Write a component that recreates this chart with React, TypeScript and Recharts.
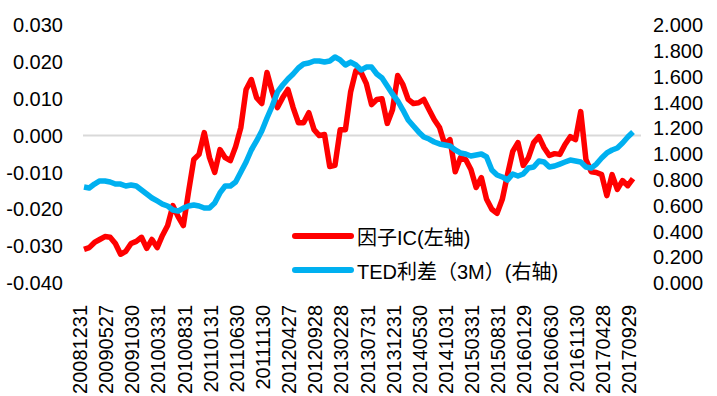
import React from "react";
import {
  LineChart,
  Line,
  XAxis,
  YAxis,
  ReferenceLine,
} from "recharts";

// x-axis labels, one every 5 months (monthly data, 106 points)
const tickLabels = [
  "20081231", "20090527", "20091030", "20100331", "20100831", "20110131",
  "20110630", "20111130", "20120427", "20120928", "20130228", "20130731",
  "20131231", "20140530", "20141031", "20150331", "20150831", "20160129",
  "20160630", "20161130", "20170428", "20170929",
];

// 因子IC (left axis)
const factorIC = [
  -0.0309, -0.0304, -0.029, -0.0282, -0.0274, -0.0276, -0.0293, -0.0322, -0.0314, -0.0293,
  -0.0287, -0.0276, -0.0306, -0.0282, -0.0304, -0.0271, -0.0244, -0.019, -0.022, -0.0244,
  -0.0152, -0.0065, -0.0051, 0.0008, -0.006, -0.01, -0.0038, -0.006, -0.0068, -0.003,
  0.0022, 0.0125, 0.0152, 0.0103, 0.0087, 0.0171, 0.0119, 0.0076, 0.0103, 0.0125,
  0.0076, 0.0035, 0.0035, 0.0062, 0.0016, 0.0, 0.0003, -0.0084, -0.0081, 0.0016,
  0.0016, 0.0119, 0.0176, 0.0171, 0.0141, 0.0084, 0.0098, 0.01, 0.0033, 0.007,
  0.0163, 0.0138, 0.0098, 0.0087, 0.0089, 0.0098, 0.007, 0.0043, 0.0022, -0.0024,
  -0.0011, -0.0098, -0.006, -0.0065, -0.0092, -0.0141, -0.0114, -0.0173, -0.02, -0.0211,
  -0.0173, -0.0106, -0.0043, -0.0019, -0.0081, -0.006, -0.0019, -0.0003, -0.0033, -0.0054,
  -0.0049, -0.0051, -0.0024, -0.0003, -0.0011, 0.0065, -0.0065, -0.0098, -0.01, -0.0106,
  -0.0163, -0.0106, -0.0146, -0.0122, -0.0136, -0.0117,
];

// TED利差（3M） (right axis)
const tedSpread = [
  0.744, 0.736, 0.767, 0.791, 0.791, 0.783, 0.767, 0.767, 0.752, 0.76,
  0.752, 0.721, 0.69, 0.659, 0.636, 0.612, 0.597, 0.566, 0.558, 0.581,
  0.597, 0.605, 0.597, 0.581, 0.581, 0.62, 0.698, 0.752, 0.752, 0.783,
  0.86, 0.938, 1.031, 1.101, 1.178, 1.279, 1.372, 1.481, 1.535, 1.581,
  1.62, 1.667, 1.698, 1.705, 1.721, 1.721, 1.713, 1.721, 1.752, 1.729,
  1.69, 1.713, 1.69, 1.651, 1.674, 1.674, 1.62, 1.589, 1.527, 1.465,
  1.411, 1.341, 1.264, 1.217, 1.171, 1.132, 1.116, 1.093, 1.078, 1.07,
  1.062, 1.031, 1.008, 1.0, 0.984, 0.992, 1.0, 0.977, 0.876, 0.837,
  0.822, 0.798, 0.845, 0.829, 0.845, 0.891, 0.899, 0.946, 0.938, 0.899,
  0.907, 0.922, 0.938, 0.953, 0.946, 0.938, 0.899, 0.891, 0.922, 0.969,
  1.008, 1.031, 1.047, 1.085, 1.132, 1.171,
];

const leftTicks = [-0.04, -0.03, -0.02, -0.01, 0, 0.01, 0.02, 0.03];
const rightTicks = [0, 0.2, 0.4, 0.6, 0.8, 1.0, 1.2, 1.4, 1.6, 1.8, 2.0];

const data = factorIC.map((ic, i) => ({ i, ic, ted: tedSpread[i] }));
const xTicks = tickLabels.map((_, k) => k * 5);

const FONT = "'Liberation Sans', Arial, 'Noto Sans CJK SC', sans-serif";
const RED = "#ff0000";
const BLUE = "#00b0f0";

function XTick({ x, y, payload }: any) {
  const label = tickLabels[Math.round(payload.value / 5)];
  return (
    <text
      transform={`translate(${x - 4},${y + 14}) rotate(-90)`}
      textAnchor="end"
      dy="0.35em"
      fontSize={20}
      fontFamily={FONT}
      fill="#000"
    >
      {label}
    </text>
  );
}

// legend sits inside the plot, lower middle
function LegendBox() {
  const rows = [
    { color: RED, text: "因子IC(左轴)" },
    { color: BLUE, text: "TED利差（3M）(右轴)" },
  ];
  return (
    <div
      style={{
        position: "absolute",
        left: 290,
        top: 219,
        fontFamily: FONT,
        fontSize: 20,
        color: "#000",
      }}
    >
      {rows.map((r) => (
        <div key={r.text} style={{ display: "flex", alignItems: "center", height: 34 }}>
          <svg width={66} height={10}>
            <line x1={5} y1={5} x2={61} y2={5} stroke={r.color} strokeWidth={6} strokeLinecap="round" />
          </svg>
          <span style={{ whiteSpace: "nowrap", marginLeft: 1 }}>{r.text}</span>
        </div>
      ))}
    </div>
  );
}

export default function App() {
  return (
    <div style={{ position: "absolute", left: 0, top: 0, width: 717, height: 396, background: "#fff" }}>
      <LineChart
        width={717}
        height={396}
        data={data}
        margin={{ top: 25, right: 0, bottom: 0, left: 0 }}
      >
        <XAxis
          dataKey="i"
          type="number"
          domain={[0, 105]}
          ticks={xTicks}
          interval={0}
          height={113}
          padding={{ left: 1, right: 8 }}
          axisLine={false}
          tickLine={false}
          tick={<XTick />}
        />
        <YAxis
          yAxisId="left"
          domain={[-0.04, 0.03]}
          ticks={leftTicks}
          interval={0}
          width={83}
          axisLine={false}
          tickLine={false}
          tickSize={0}
          tickMargin={20}
          tickFormatter={(v: number) => v.toFixed(3)}
          tick={{ fontSize: 20, fontFamily: FONT, fill: "#000" }}
        />
        <YAxis
          yAxisId="right"
          orientation="right"
          domain={[0, 2]}
          ticks={rightTicks}
          interval={0}
          width={76}
          axisLine={false}
          tickLine={false}
          tickSize={0}
          tickMargin={12}
          tickFormatter={(v: number) => v.toFixed(3)}
          tick={{ fontSize: 20, fontFamily: FONT, fill: "#000" }}
        />
        <ReferenceLine yAxisId="left" y={0} stroke="#d9d9d9" strokeWidth={2} />
        <Line
          yAxisId="left"
          dataKey="ic"
          stroke={RED}
          strokeWidth={5.5}
          strokeLinejoin="round"
          dot={false}
          isAnimationActive={false}
        />
        <Line
          yAxisId="right"
          dataKey="ted"
          stroke={BLUE}
          strokeWidth={5.5}
          strokeLinejoin="round"
          dot={false}
          isAnimationActive={false}
        />
      </LineChart>
      <LegendBox />
    </div>
  );
}
